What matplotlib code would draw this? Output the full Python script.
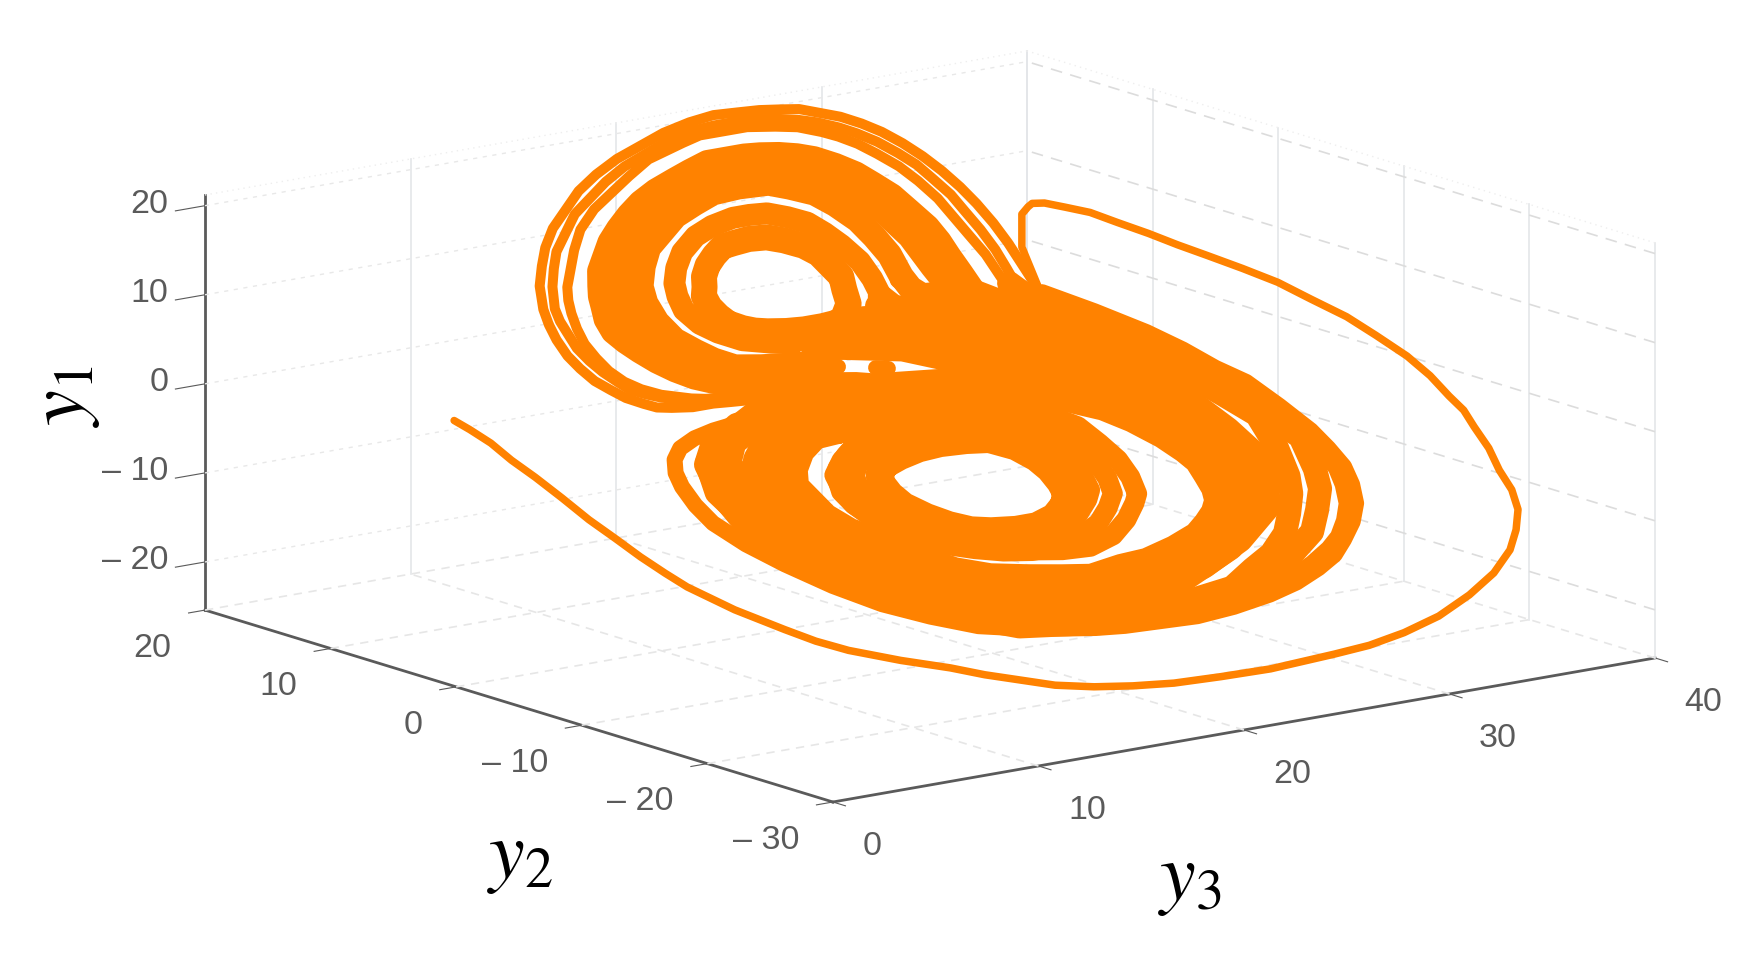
import numpy as np
import matplotlib
matplotlib.use("Agg")
import matplotlib.pyplot as plt

plt.rcParams['font.family'] = ['Liberation Sans', 'DejaVu Sans']
plt.rcParams['mathtext.fontset'] = 'stix'

y3_ticks = [0, 10, 20, 30, 40]
y2_ticks = [-30, -20, -10, 0, 10, 20]
y1_ticks = [-20, -10, 0, 10, 20]
y3_lim = (0, 40)
y2_lim = (-30, 20)
y1_lim = (-25.4, 21.2)

# Orbit strands read off the picture as y3,y1 pairs. One view cannot separate
# y2 from y1, so on the attractor y2 is taken equal to y1.
# upper wing
r1 = [23.1,-4.1, 21.6,-2.8, 20.3,-1.6, 19.3,-1.0, 18.3,-0.5, 17.5,-0.1, 16.7,0.2, 15.7,0.4, 14.7,0.6, 13.8,0.7, 13.0,0.8, 12.0,0.8,
      11.1,1.0, 10.5,1.2, 10.1,1.6, 9.6,2.2, 9.3,2.9, 9.0,3.7, 8.9,4.7, 8.9,5.7, 9.1,6.9, 9.4,8.0, 9.8,9.1, 10.2,9.9, 10.6,10.7, 11.5,12.0,
      12.4,13.2, 13.5,14.4, 14.8,15.5, 16.1,16.6, 17.5,17.5, 19.0,18.3, 20.5,18.9, 22.0,19.5, 23.5,19.9, 24.8,20.1, 25.9,20.0, 26.9,19.9,
      27.8,19.7, 28.6,19.5, 29.3,19.0, 30.0,18.5, 30.6,17.8, 31.1,17.0, 31.5,16.0, 31.8,14.9, 32.0,13.7, 32.1,12.4, 32.1,11.1, 32.0,9.6,
      31.8,8.1, 31.5,6.5, 31.2,4.9]
r2 = [24.4,-3.4, 21.5,-0.9, 18.7,0.1, 16.5,0.8, 15.2,1.0, 13.9,1.1, 12.8,1.2, 11.7,1.5, 11.1,1.8, 10.6,2.2, 10.1,2.7, 9.9,3.4, 9.7,4.2,
      9.6,5.1, 9.6,6.1, 9.8,7.1, 10.0,8.1, 10.3,9.0, 11.1,10.5, 11.9,11.7, 12.7,12.8, 13.8,13.9, 15.0,15.1, 16.3,16.0, 17.6,16.9, 19.0,17.7,
      20.4,18.3, 21.8,18.9, 23.2,19.3, 24.4,19.4, 25.5,19.4, 26.5,19.3, 27.3,19.1, 28.1,18.8, 28.8,18.4, 29.5,17.8, 30.0,17.2, 30.5,16.4,
      30.9,15.4, 31.2,14.4, 31.3,13.3, 31.4,12.0, 31.3,10.7, 31.2,9.3, 31.0,7.8, 30.7,6.4, 30.4,5.1]
r3 = [22.2,-1.3, 19.9,-0.7, 17.6,-0.2, 16.7,0.2, 15.7,0.6, 14.6,0.8, 13.5,1.0, 12.3,1.4, 11.2,2.0, 10.6,2.6, 10.2,3.3, 10.0,4.2, 10.0,5.2,
      10.1,6.3, 10.4,7.4, 10.8,8.5, 11.2,9.4, 11.7,10.3, 12.6,11.5, 13.5,12.7, 14.6,14.0, 16.0,15.2, 17.4,16.1, 18.8,17.0, 20.3,17.9, 22.4,18.6,
      23.4,18.9, 24.5,18.9, 25.7,18.9, 26.9,18.6, 27.8,18.3, 28.6,17.7, 29.1,17.2, 29.6,16.5, 30.0,15.6, 30.4,14.5, 30.6,13.3, 30.7,11.9,
      30.6,10.5, 30.5,9.1, 30.4,7.6, 30.1,5.9]
rb1 = [24.9,-3.1, 23.7,-1.9, 22.4,-0.9, 21.1,-0.2, 19.7,0.4, 18.6,0.7, 17.5,1.0, 16.4,1.3, 15.3,1.6, 14.6,1.9, 13.9,2.3, 13.3,2.8, 12.8,3.5,
       12.4,4.3, 12.1,5.2, 11.9,6.0, 11.8,6.8, 12.0,7.7, 12.4,8.6, 12.7,9.3, 13.1,10.0, 13.7,11.0, 14.5,11.9, 15.3,12.8, 16.2,13.6, 17.2,14.4,
       18.2,15.1, 19.3,15.7, 20.5,16.2, 21.5,16.6, 22.6,17.0, 23.5,17.0, 24.4,17.0, 25.1,16.9, 25.9,16.7, 26.6,16.4, 27.2,16.0, 27.8,15.3,
       28.3,14.5, 28.6,13.6, 28.9,12.6, 29.0,11.4, 29.1,10.1, 29.0,9.0, 28.8,7.9, 28.6,6.6, 28.4,5.4]
rb2 = [18.7,1.6, 18.0,1.8, 16.9,2.1, 15.8,2.5, 15.2,2.8, 14.6,3.3, 14.1,3.8, 13.7,4.4, 13.4,5.2, 13.1,6.0, 13.1,6.8, 13.1,7.6, 13.3,8.3,
       13.6,9.0, 14.0,9.7, 15.2,11.5, 16.7,12.9, 18.6,14.3, 20.7,15.3, 22.7,15.9, 24.0,15.9, 25.3,15.7, 26.4,15.0, 27.3,13.7, 27.9,11.9,
       28.0,9.7, 27.7,7.4, 27.5,5.4]
rb3 = [18.8,2.3, 17.6,2.5, 16.5,2.7, 15.4,3.0, 14.8,3.7, 14.4,4.5, 14.0,5.5, 14.0,6.9, 14.3,8.3, 14.8,9.5, 15.7,10.8, 16.7,12.0, 17.9,12.9,
       19.1,13.8, 20.4,14.4, 21.6,14.9, 22.9,15.0, 24.3,14.9, 25.0,14.4, 25.8,13.7, 26.2,12.7, 26.5,11.4, 26.5,10.1, 26.4,8.7, 26.0,7.1,
       25.9,6.2, 26.2,5.2]
rc = [18.8,3.9, 17.9,4.2, 16.8,4.7, 16.1,5.5, 15.7,6.3, 15.6,7.4, 15.9,8.4, 16.3,9.3, 17.0,10.3, 17.9,11.3, 19.1,12.2, 20.2,12.7, 21.4,13.0,
      22.2,13.0, 23.0,12.9, 23.7,12.4, 24.3,11.8, 24.6,10.9, 24.8,9.9, 24.9,8.6, 24.7,7.3, 24.4,6.2, 24.3,5.5]
rd = [21.7,4.8, 20.7,4.7, 19.8,4.7, 19.0,4.8, 18.2,5.0, 17.7,5.2, 17.3,5.5, 16.9,6.0, 16.8,6.6, 16.8,7.3, 17.0,8.1, 17.4,8.7, 17.8,9.4,
      18.4,10.1, 19.1,10.7, 19.8,11.2, 20.4,11.3, 21.2,11.4, 22.0,11.3, 22.6,10.9, 23.2,10.3, 23.5,9.6, 23.5,8.7, 23.5,7.8, 23.1,6.9, 22.7,5.9,
      21.7,4.8]
# crossing between the wings
c0 = [23.8,5.4, 25.5,4.6, 26.7,3.2, 28.1,2.1]
c0b = [25.7,6.9, 25.9,5.6, 26.2,4.4]
c1 = [21.5,4.7, 24.4,4.3, 26.2,3.0, 27.9,1.7, 29.2,0.4]
c2 = [19.6,3.5, 20.8,3.2, 23.2,2.4, 25.2,0.8, 27.1,-0.9, 28.4,-2.5]
c3 = [18.7,2.1, 19.7,1.8]
c4 = [21.2,1.3, 21.7,1.1]
# lower wing
i1 = [23.0,-4.8, 22.0,-4.6, 20.8,-4.5, 19.7,-4.6, 18.6,-4.9, 17.6,-5.3, 17.0,-5.9, 16.7,-6.5, 16.6,-7.4, 16.7,-8.3, 17.2,-9.3, 17.8,-10.1,
      18.5,-10.7, 19.3,-11.0, 20.4,-11.2, 21.4,-11.2, 22.5,-10.8, 23.4,-10.1, 24.0,-9.3, 24.2,-8.5, 24.3,-7.5, 24.2,-6.6, 23.8,-5.6, 23.0,-4.8]
i2 = [23.4,-4.1, 22.2,-3.8, 20.9,-3.6, 19.7,-3.7, 18.4,-4.0, 17.4,-4.4, 16.5,-5.0, 15.9,-5.7, 15.6,-6.6, 15.5,-7.5, 15.7,-8.6, 16.2,-9.7,
      17.1,-10.7, 17.9,-11.3, 18.9,-11.7, 20.0,-12.0, 21.1,-12.1, 22.3,-11.7, 23.6,-10.9, 24.6,-10.0, 25.1,-9.4, 25.4,-8.3, 25.6,-7.2,
      25.5,-6.0, 24.8,-4.9, 23.4,-4.1]
i3 = [23.8,-3.4, 22.4,-3.1, 21.1,-2.9, 19.6,-3.0, 18.2,-3.3, 17.0,-3.8, 16.0,-4.5, 15.1,-5.4, 14.8,-6.5, 14.7,-7.6, 14.9,-8.6, 15.3,-9.6,
      16.0,-10.6, 16.9,-11.4, 17.9,-12.0, 19.0,-12.5, 20.2,-12.8, 21.4,-12.8, 22.8,-12.4, 24.1,-11.7, 25.1,-10.8, 25.9,-9.9, 26.3,-8.8,
      26.5,-7.6, 26.3,-6.3, 25.9,-5.0, 25.1,-4.1, 23.8,-3.4]
i4 = [24.5,-2.8, 23.0,-2.5, 21.6,-2.4, 20.1,-2.5, 18.7,-2.9, 17.5,-3.4, 16.4,-4.2, 15.5,-5.0, 15.1,-5.6, 14.7,-6.6, 14.7,-7.6, 15.0,-8.7,
      15.5,-9.7, 16.4,-10.6, 17.3,-11.4, 18.5,-12.1, 20.0,-12.7, 21.5,-13.1, 22.8,-13.2, 24.2,-12.7, 25.4,-11.8, 26.4,-10.8, 26.9,-10.2,
      27.3,-9.0, 27.5,-7.7, 27.4,-6.4, 27.2,-5.0, 26.5,-4.0, 25.6,-3.3, 24.5,-2.8]
m0 = [16.9,-2.9, 15.8,-3.0, 14.8,-3.7, 13.9,-4.7, 13.4,-5.6, 13.4,-6.5, 13.4,-7.8, 13.8,-9.0, 14.6,-10.1, 15.4,-11.4, 16.5,-12.8,
      17.7,-13.6, 19.2,-14.1, 20.6,-14.5, 21.8,-14.8, 23.4,-14.5, 24.7,-14.4, 26.3,-13.9, 27.7,-13.3, 28.5,-12.7, 29.2,-12.1, 29.7,-11.5,
      30.0,-10.8, 30.2,-9.9, 30.4,-8.9, 30.3,-8.1, 30.0,-6.9, 29.4,-5.5, 28.7,-4.4, 28.0,-3.8, 27.1,-3.0, 26.1,-2.4, 24.9,-1.6, 23.3,-1.6,
      22.0,-1.8, 20.0,-2.1, 18.1,-2.3, 16.9,-2.9]
f1 = [21.9,-0.4, 23.9,-0.6, 25.8,-1.0, 27.1,-2.0, 27.9,-3.0]
m1 = [24.6,-1.4, 22.8,-1.2, 21.2,-1.2, 19.2,-1.4, 17.3,-1.7, 16.1,-2.3, 15.0,-2.9, 14.0,-3.6, 13.4,-4.5, 12.9,-5.5, 12.5,-6.7, 12.7,-8.4,
      13.1,-9.4, 13.7,-10.5, 14.6,-11.9, 15.7,-13.1, 17.1,-14.1, 18.7,-14.8, 20.1,-15.3, 21.4,-15.6, 23.1,-15.5, 24.7,-15.2, 26.3,-14.7,
      27.5,-14.1, 28.9,-13.1, 30.0,-11.8, 30.7,-10.6, 30.9,-9.3, 31.0,-7.8, 30.7,-6.4, 30.2,-5.1, 29.5,-4.0, 28.7,-3.0, 27.8,-2.0, 26.1,0.3,
      24.8,2.7, 24.3,6.0]
m2 = [24.9,-1.0, 21.2,-0.4, 17.5,-0.7, 14.6,-1.7, 12.6,-3.6, 11.9,-5.7, 11.7,-8.2, 12.8,-11.4, 14.9,-14.1, 18.1,-15.9, 21.6,-16.7,
      25.1,-16.3, 28.6,-14.6, 30.9,-12.1, 31.9,-9.1, 31.7,-6.0, 30.5,-3.3, 28.4,-1.7, 27.2,0.5, 25.7,3.5, 26.2,5.2]
m3 = [20.6,-0.3, 17.1,-0.2, 14.2,-0.7, 12.2,-1.8, 11.0,-3.3, 10.5,-5.5, 10.5,-7.9, 11.5,-11.3, 13.8,-14.4, 17.2,-16.6, 19.9,-16.8,
      22.1,-16.7, 24.7,-16.2, 26.8,-15.5, 29.3,-14.2, 31.7,-12.4, 32.6,-10.7, 33.1,-8.9, 33.0,-7.2, 32.7,-5.5, 31.8,-2.7, 30.3,0.1, 29.1,2.0,
      27.5,5.4]
l2a = [16.1,-0.7, 13.1,-1.0, 11.4,-1.8, 10.2,-3.2, 9.6,-5.3, 9.4,-7.7, 10.6,-11.2, 12.9,-14.4, 16.4,-17.2, 19.3,-17.8, 22.4,-18.2,
       24.6,-18.0, 27.0,-17.6, 28.6,-16.6, 30.0,-15.8, 31.4,-14.6, 32.4,-13.3, 33.3,-12.0, 33.9,-10.8, 34.6,-8.7, 35.1,-6.3, 34.5,-4.5,
       33.8,-2.6, 31.5,0.7, 30.5,2.2, 28.3,5.4]
l2b = [16.3,-0.6, 13.1,-0.9, 11.5,-1.9, 10.3,-3.1, 9.5,-5.2, 9.6,-8.0, 10.6,-11.6, 12.9,-15.1, 16.6,-17.7, 19.1,-18.2, 22.4,-18.2,
       25.0,-18.1, 28.0,-17.4, 30.8,-16.1, 32.6,-14.8, 33.7,-13.4, 34.7,-12.0, 35.3,-10.6, 36.0,-8.3, 35.6,-6.5, 34.9,-4.3, 33.7,-2.4, 31.8,0.8,
       30.8,2.3, 30.2,5.4]
l1a = [16.1,-0.6, 14.7,-0.7, 13.2,-0.8, 11.9,-1.0, 10.8,-1.3, 9.8,-1.8, 9.1,-2.5, 8.6,-3.4, 8.3,-4.4, 8.1,-5.8, 8.1,-7.2, 8.6,-9.0,
       9.4,-10.8, 10.5,-12.8, 11.8,-14.6, 13.3,-16.0, 14.9,-17.2, 16.7,-17.9, 18.5,-18.4, 19.7,-18.7, 21.0,-18.9, 22.7,-19.0, 24.4,-19.1,
       26.3,-18.9, 28.3,-18.5, 29.9,-18.0, 31.4,-17.3, 32.6,-16.6, 33.6,-15.7, 34.7,-14.6, 35.6,-13.4, 36.2,-12.1, 36.6,-10.8, 36.7,-9.4,
       36.7,-8.0, 36.4,-6.0, 36.0,-4.0, 35.3,-2.7, 34.7,-1.1, 33.9,0.5, 32.6,2.5, 31.2,4.4]
l1b = [9.5,-10.7, 12.0,-14.3, 15.2,-16.8, 18.7,-18.0, 21.2,-18.5, 24.6,-18.8, 26.5,-18.6, 28.3,-18.1, 29.9,-17.6, 31.3,-16.9, 32.6,-16.1,
       33.5,-15.4, 34.4,-14.4, 35.2,-13.3, 35.8,-12.0, 36.2,-10.8, 36.3,-9.4, 36.2,-8.1, 35.9,-6.0, 35.5,-4.0, 34.9,-2.6, 33.5,0.4, 32.2,2.4,
       30.7,4.7]
# the way in from the start point, as y3,y2,y1
tail = [2.1,3.6,2.1, 2.2,2.5,1.5, 2.3,1.0,0.6, 2.2,-0.8,-0.5, 2.2,-2.7,-1.6, 2.1,-5.0,-2.9, 2.0,-7.3,-4.3, 2.0,-9.4,-5.5, 2.0,-11.4,-6.7,
        2.1,-13.2,-7.8, 2.2,-14.8,-8.7, 2.8,-17.6,-10.3, 3.7,-20.1,-11.8, 4.3,-21.6,-12.7, 5.1,-22.9,-13.5, 6.6,-24.6,-14.5, 8.1,-26.1,-15.3,
        9.1,-27.2,-16.0, 10.2,-28.2,-16.6, 11.3,-29.2,-17.2, 12.7,-30.0,-17.6, 14.9,-29.5,-18.6, 16.9,-29.5,-19.1, 19.2,-29.5,-19.3,
        21.6,-29.5,-19.4, 24.7,-29.5,-19.0, 26.4,-29.5,-18.7, 28.4,-29.0,-18.3, 30.7,-28.0,-17.8, 32.8,-27.0,-16.7, 34.6,-26.0,-15.4,
        36.0,-25.0,-13.8, 36.6,-24.5,-12.0, 37.0,-24.0,-10.1, 37.0,-23.5,-8.1, 36.7,-23.0,-6.0, 36.8,-22.0,-4.0, 36.7,-21.0,-2.0, 36.8,-20.0,-0.6,
        36.7,-19.0,0.6, 37.0,-17.0,1.9, 37.1,-15.0,3.2, 36.8,-13.0,4.8, 36.6,-11.0,6.1, 36.1,-9.0,7.4, 35.7,-7.0,8.6, 35.2,-5.0,9.5, 34.7,-3.0,10.3,
        34.5,-1.0,10.7, 34.3,1.0,11.2, 34.0,3.0,11.7, 33.9,5.0,12.0, 33.3,6.0,12.4, 32.9,7.0,12.6, 32.3,7.0,12.8, 32.1,7.0,12.5, 31.8,7.0,11.8,
        31.8,7.0,10.8, 31.8,7.0,9.5, 31.8,7.0,8.1, 32.0,7.0,6.9, 32.2,7.0,5.7, 32.6,7.0,3.3, 33.7,7.0,-0.8]

strands = [r1, r2, r3, rb1, rb2, rb3, rc, rd, c0, c0b, c1, c2, c3, c4,
           i1, i2, i3, i4, m0, f1, m1, m2, m3, l2a, l2b, l1a, l1b]
# the orbit is packed too densely to draw turn by turn, so each strand stands for a bundle
strand_widths = [7.2, 7.2, 7.2, 18, 18, 18, 15.8, 18.7, 18, 11.5, 21.6, 21.6, 10.8, 10.8,
                 20.2, 14.4, 14.4, 14.4, 10, 11.5, 18, 25.2, 25.2, 17.3, 17.3, 11.5, 11.5]

ORANGE = '#ff8200'
AXIS_GREY = '#5a5a5a'

fig = plt.figure(figsize=(17.56, 9.57), dpi=100)
side = 1700.0
ax = fig.add_axes([(930 - .5135 * side) / 1756, (530.5 - .5135 * side) / 957, side / 1756, side / 957],
                  projection='3d', proj_type='ortho')
ax.view_init(elev=13.38, azim=-127.13)
ax.set_xlim(*y3_lim, view_margin=0)
ax.set_ylim(*y2_lim, view_margin=0)
ax.set_zlim(*y1_lim, view_margin=0)
ax.set_box_aspect((1031, 1040, 426.6), zoom=1481 / side)
ax.computed_zorder = False
ax.patch.set_alpha(0)
for axis in (ax.xaxis, ax.yaxis, ax.zaxis):
    axis.set_pane_color((1, 1, 1, 0))
    axis.pane.set_edgecolor((1, 1, 1, 0))
    axis.line.set_color(AXIS_GREY)
    axis.line.set_linewidth(2.0)
    axis._axinfo['tick']['inward_factor'] = 0.25
    axis._axinfo['tick']['outward_factor'] = 0.0
ax.zaxis._axinfo['tick']['inward_factor'] = 0.45
ax.grid(False)

def tick_text(v):
    return u'\u2013 %d' % -v if v < 0 else '%d' % v

ax.set_xticks(y3_ticks)
ax.set_yticks(y2_ticks)
ax.set_zticks(y1_ticks)
ax.set_xticklabels([tick_text(v) for v in y3_ticks])
ax.set_yticklabels([tick_text(v) for v in y2_ticks])
ax.set_zticklabels([tick_text(v) for v in y1_ticks])
ax.tick_params(labelsize=24.5, labelcolor=AXIS_GREY, color=AXIS_GREY, width=1.8)
ax.tick_params(axis='x', pad=22)
ax.tick_params(axis='y', pad=18)
ax.tick_params(axis='z', pad=8)
for lab in ax.get_zticklabels():
    lab.set_ha('right')
    lab.set_va('center')
for lab in ax.get_yticklabels():
    lab.set_ha('right')
for lab in ax.get_xticklabels():
    lab.set_ha('left')

# grid by hand: each wall and the floor has its own line style
for t in y3_ticks[1:]:
    ax.plot([t, t], [20, 20], y1_lim, color='#e4e6e9', lw=1.2, zorder=1)
    ax.plot([t, t], y2_lim, [y1_lim[0]] * 2, color='#e6e6e6', lw=1.2, ls=(0, (5, 4)), zorder=1)
for t in y2_ticks:
    ax.plot([40, 40], [t, t], y1_lim, color='#e4e6e9', lw=1.2, zorder=1)
    if t > -30:
        ax.plot(y3_lim, [t, t], [y1_lim[0]] * 2, color='#e6e6e6', lw=1.2, ls=(0, (5, 4)), zorder=1)
for t in y1_ticks:
    ax.plot(y3_lim, [20, 20], [t, t], color='#e8e8e8', lw=1.0, ls=(0, (3, 4)), zorder=1)
    ax.plot([40, 40], y2_lim, [t, t], color='#dcdcdc', lw=1.2, ls=(0, (7, 5)), zorder=1)
ax.plot([40, 40], y2_lim, [y1_lim[1]] * 2, color='#eeeeee', lw=1.0, ls=(0, (1, 3)), zorder=1)
ax.plot(y3_lim, [20, 20], [y1_lim[1]] * 2, color='#eeeeee', lw=1.0, ls=(0, (1, 3)), zorder=1)

for strand, width in zip(strands, strand_widths):
    pts = np.reshape(strand, (-1, 2))
    ax.plot(pts[:, 0], pts[:, 1], pts[:, 1], color=ORANGE, lw=width, zorder=3,
            solid_capstyle='round', solid_joinstyle='round')
pts = np.reshape(tail, (-1, 3))
ax.plot(pts[:, 0], pts[:, 1], pts[:, 2], color=ORANGE, lw=5.4, zorder=3,
        solid_capstyle='round', solid_joinstyle='round')

fig.text(64 / 1756, 1 - 396 / 957, r'$y_1$', rotation=90, fontsize=58, ha='center', va='center')
fig.text(520 / 1756, 1 - 858 / 957, r'$y_2$', fontsize=58, ha='center', va='center')
fig.text(1190 / 1756, 1 - 880 / 957, r'$y_3$', fontsize=58, ha='center', va='center')
fig.savefig('out.png', dpi=100)
